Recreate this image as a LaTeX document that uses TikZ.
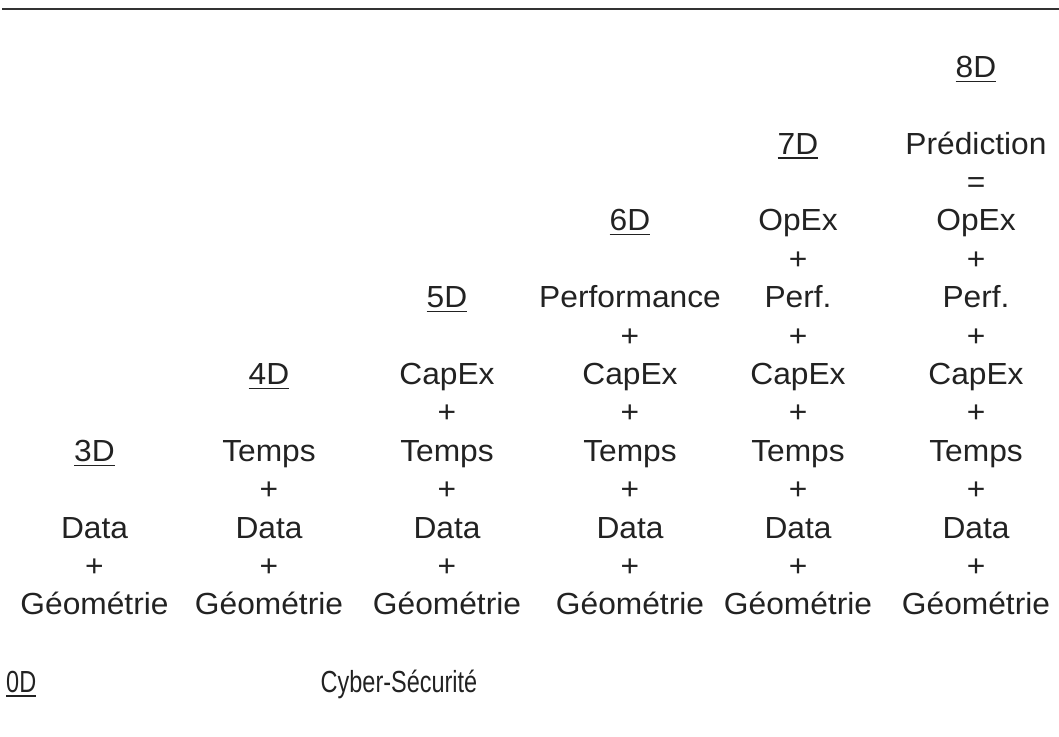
\documentclass[tikz,border=0pt]{standalone}
\usepackage{fontspec}
\setmainfont{Liberation Sans}[FakeStretch=1.04]
\newfontfamily\condensed{Liberation Sans}[FakeStretch=0.77]
\definecolor{ink}{HTML}{222222}
\definecolor{rulegray}{HTML}{333333}
% underlined dimension tag (3D, 4D, ...)
\newcommand\dimtag[1]{\setbox0\hbox{#1}\rlap{\rule[-4.6pt]{\wd0}{1.3pt}}\box0}
\begin{document}
\begin{tikzpicture}[x=1pt,y=-1pt,
  txt/.style={anchor=base, inner sep=0pt, text=ink, font=\fontsize{30.5}{36}\selectfont},
  basetxt/.style={txt, font=\condensed\fontsize{30.5}{36}\selectfont}]
\useasboundingbox (0,0) rectangle (1059,736);
% top rule
\coordinate (ruleL) at (2,9.3);
\coordinate (ruleR) at (1059,9.3);
\draw[line width=2.3pt, color=rulegray] (ruleL) -- (ruleR);
% one column per dimension, each stack ending with Géométrie
\foreach \col/\x/\first in {1/94.5/10,2/269/8,3/447/6,4/630/4,5/798/2,6/976/0}{
  \pgfmathtruncatemacro\dimnum{\col+2}
  \node[txt] (head\col) at (\x,{154+38.4*(\first-2)}) {\dimtag{\dimnum D}};
  \foreach \row/\word in {0/Prédiction,1/=,2/OpEx,3/+,4/{\ifnum\col=4 Performance\else Perf.\fi},5/+,6/CapEx,7/+,8/Temps,9/+,10/Data,11/+,12/Géométrie}{
    \ifnum\row<\first\else
      \node[txt] (c\col r\row) at (\x,{154+38.4*\row}) {\word};
    \fi
  }
}
% base layer
\node[basetxt, anchor=base west] (head0) at (6,692) {\dimtag{0D}};
\node[basetxt] (cyber) at (399,692) {Cyber-Sécurité};
\end{tikzpicture}
\end{document}
